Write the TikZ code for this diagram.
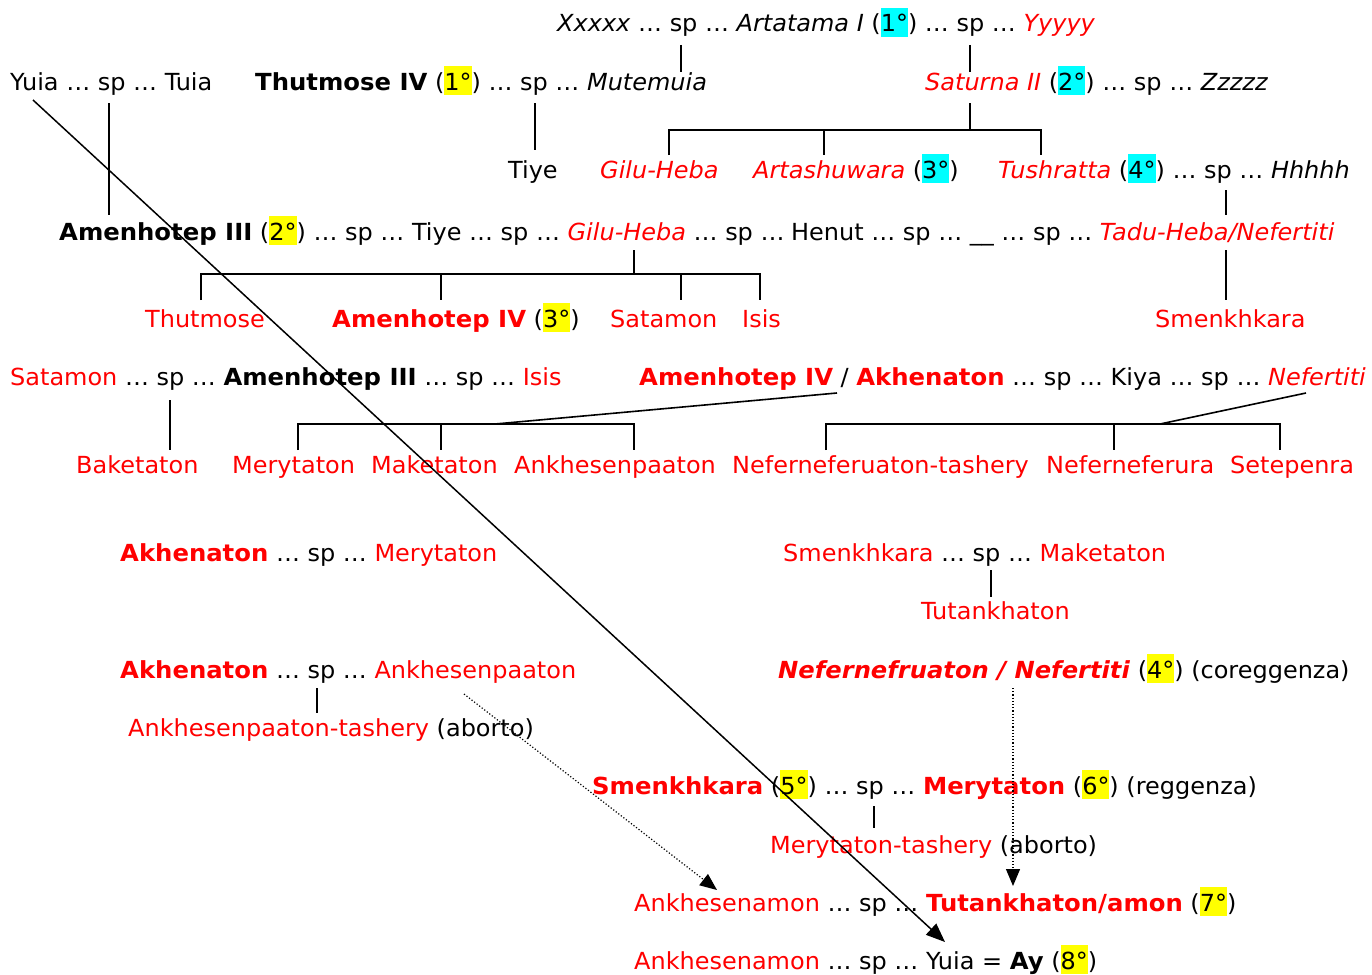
\documentclass[tikz,border=0pt]{standalone}
\usepackage{fontspec}
\setmainfont[FakeStretch=1.02,BoldFeatures={FakeStretch=1.035},BoldItalicFeatures={FakeStretch=1.03}]{DejaVu Sans}
\usetikzlibrary{arrows.meta}
\definecolor{rd}{RGB}{255,0,0}
\definecolor{hy}{RGB}{255,255,0}
\definecolor{hc}{RGB}{0,255,255}
\newcommand\R[1]{\textcolor{rd}{#1}}
\newcommand\hly[1]{{\setlength\fboxsep{0pt}\colorbox{hy}{\rule[-5pt]{0pt}{29pt}#1}}}
\newcommand\hlc[1]{{\setlength\fboxsep{0pt}\colorbox{hc}{\rule[-5pt]{0pt}{29pt}#1}}}
\begin{document}
\begin{tikzpicture}[x=1pt,y=-1pt,
  txt/.style={anchor=base west,inner sep=0pt,font=\fontsize{23.5}{27}\selectfont},
  ln/.style={line width=1.6pt},
  bigarrow/.style={line width=1.5pt,-{Triangle[length=19pt,width=15pt]}},
  dotarrow/.style={line width=1.2pt,dotted,-{Triangle[length=17pt,width=14pt]}}]
\useasboundingbox[fill=white] (0,0) rectangle (1372,974);
% row 1
\node[txt] (r1) at (557,32) {\textit{Xxxxx} … sp … \textit{Artatama I} (\hlc{1°}) … sp … \R{\textit{Yyyyy}}};
% row 2
\node[txt] (yuia) at (10,90) {Yuia … sp … Tuia};
\node[txt] (thut) at (255,90) {\textbf{Thutmose IV} (\hly{1°}) … sp … \textit{Mutemuia}};
\node[txt] (satu) at (925,90) {\R{\textit{Saturna II}} (\hlc{2°}) … sp … \textit{Zzzzz}};
% row 3
\node[txt] (tiye) at (508,178) {Tiye};
\node[txt] (gilu) at (600,178) {\R{\textit{Gilu-Heba}}};
\node[txt] (arta) at (753,178) {\R{\textit{Artashuwara}} (\hlc{3°})};
\node[txt] (tush) at (998,178) {\R{\textit{Tushratta}} (\hlc{4°}) … sp … \textit{Hhhhh}};
% row 4
\node[txt] (am3) at (59,240) {\textbf{Amenhotep III} (\hly{2°}) … sp … Tiye … sp … \R{\textit{Gilu-Heba}} … sp …};
\node[txt] (henut) at (791,240) {Henut … sp … \_\_ … sp … \R{\textit{Tadu-Heba/Nefertiti}}};
% row 5
\node[txt] (thm) at (145,327) {\R{Thutmose}};
\node[txt] (am4) at (332,327) {\R{\textbf{Amenhotep IV}} (\hly{3°})};
\node[txt] (sata) at (610,327) {\R{Satamon}};
\node[txt] (isis) at (742,327) {\R{Isis}};
\node[txt] (smk1) at (1155,327) {\R{Smenkhkara}};
% row 6
\node[txt] (r6a) at (10,385) {\R{Satamon} … sp … \textbf{Amenhotep III} … sp … \R{Isis}};
\node[txt] (r6b) at (639,385) {\R{\textbf{Amenhotep IV}} / \R{\textbf{Akhenaton}} … sp … Kiya … sp … \R{\textit{Nefertiti}}};
% row 7
\node[txt] (bak) at (76,473) {\R{Baketaton}};
\node[txt] (mer) at (232,473) {\R{Merytaton}};
\node[txt] (mak) at (371,473) {\R{Maketaton}};
\node[txt] (ankp) at (514,473) {\R{Ankhesenpaaton}};
\node[txt] (neft) at (732,473) {\R{Neferneferuaton-tashery}};
\node[txt] (nefr) at (1046,473) {\R{Neferneferura}};
\node[txt] (setp) at (1230,473) {\R{Setepenra}};
% row 8
\node[txt] (r8a) at (120,561) {\R{\textbf{Akhenaton}} … sp … \R{Merytaton}};
\node[txt] (r8b) at (783,561) {\R{Smenkhkara} … sp … \R{Maketaton}};
% row 9
\node[txt] (tut) at (921,619) {\R{Tutankhaton}};
% row 10
\node[txt] (r10a) at (120,678) {\R{\textbf{Akhenaton}} … sp … \R{Ankhesenpaaton}};
\node[txt] (r10b) at (778,678) {\R{\textbf{\textit{Nefernefruaton / Nefertiti}}} (\hly{4°}) (coreggenza)};
% row 11
\node[txt] (r11) at (128,736) {\R{Ankhesenpaaton-tashery} (aborto)};
% row 12
\node[txt] (r12) at (592,794) {\R{\textbf{Smenkhkara}} (\hly{5°}) … sp … \R{\textbf{Merytaton}} (\hly{6°}) (reggenza)};
% row 13
\node[txt] (r13) at (770,853) {\R{Merytaton-tashery} (aborto)};
% row 14
\node[txt] (r14) at (634,911) {\R{Ankhesenamon} … sp … \R{\textbf{Tutankhaton/amon}} (\hly{7°})};
% row 15
\node[txt] (r15) at (634,969) {\R{Ankhesenamon} … sp … Yuia = \textbf{Ay} (\hly{8°})};

% connector coordinates
\coordinate (a1) at (681,45); \coordinate (a2) at (681,72);
\coordinate (b1) at (970,45); \coordinate (b2) at (970,72);
\coordinate (c1) at (535,103); \coordinate (c2) at (535,150);
\coordinate (d0) at (970,103); \coordinate (d1) at (970,130);
\coordinate (dl) at (669,130); \coordinate (dm) at (824,130); \coordinate (dr) at (1041,130);
\coordinate (e1) at (109,103); \coordinate (e2) at (109,215);
\coordinate (f1) at (1226,190); \coordinate (f2) at (1226,215);
\coordinate (g0) at (634,250); \coordinate (g1) at (634,274);
\coordinate (gl) at (201,274); \coordinate (gm) at (441,274); \coordinate (gn) at (681,274); \coordinate (gr) at (760,274);
\coordinate (h1) at (1226,250); \coordinate (h2) at (1226,300);
\coordinate (i1) at (170,400); \coordinate (i2) at (170,450);
\coordinate (j0) at (837,393); \coordinate (j1) at (495,424);
\coordinate (jl) at (298,424); \coordinate (jm) at (441,424); \coordinate (jr) at (634,424);
\coordinate (k0) at (1306,393); \coordinate (k1) at (1160,424);
\coordinate (kl) at (826,424); \coordinate (km) at (1114,424); \coordinate (kr) at (1280,424);
\coordinate (l1) at (991,570); \coordinate (l2) at (991,597);
\coordinate (m1) at (317,688); \coordinate (m2) at (317,713);
\coordinate (n1) at (874,806); \coordinate (n2) at (874,828);
\coordinate (p0) at (33,100); \coordinate (p1) at (945,942);
\coordinate (q0) at (464,694); \coordinate (q1) at (717,890);
\coordinate (s0) at (1013,688); \coordinate (s1) at (1013,886);

\draw[ln] (a1) -- (a2);
\draw[ln] (b1) -- (b2);
\draw[ln] (c1) -- (c2);
\draw[ln] (d0) -- (d1);
\draw[ln] ([yshift=-25pt]dl) -- (dl) -- (dr) -- ([yshift=-25pt]dr);
\draw[ln] (dm) -- ([yshift=-25pt]dm);
\draw[ln] (e1) -- (e2);
\draw[ln] (f1) -- (f2);
\draw[ln] (g0) -- (g1);
\draw[ln] ([yshift=-26pt]gl) -- (gl) -- (gr) -- ([yshift=-26pt]gr);
\draw[ln] (gm) -- ([yshift=-26pt]gm);
\draw[ln] (gn) -- ([yshift=-26pt]gn);
\draw[ln] (h1) -- (h2);
\draw[ln] (i1) -- (i2);
\draw[ln] (j0) -- (j1);
\draw[ln] ([yshift=-26pt]jl) -- (jl) -- (jr) -- ([yshift=-26pt]jr);
\draw[ln] (jm) -- ([yshift=-26pt]jm);
\draw[ln] (k0) -- (k1);
\draw[ln] ([yshift=-26pt]kl) -- (kl) -- (kr) -- ([yshift=-26pt]kr);
\draw[ln] (km) -- ([yshift=-26pt]km);
\draw[ln] (l1) -- (l2);
\draw[ln] (m1) -- (m2);
\draw[ln] (n1) -- (n2);
\draw[bigarrow] (p0) -- (p1);
\draw[dotarrow] (q0) -- (q1);
\draw[dotarrow] (s0) -- (s1);
\end{tikzpicture}
\end{document}
